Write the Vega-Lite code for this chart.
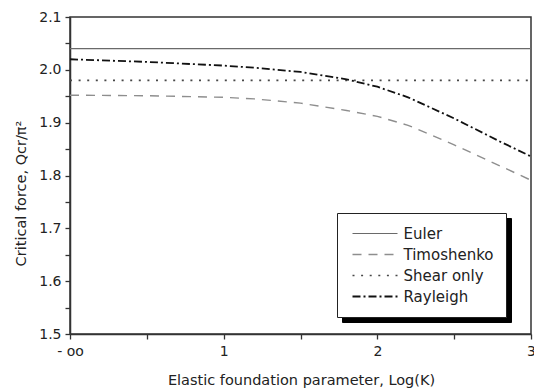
{
  "$schema": "https://vega.github.io/schema/vega-lite/v6.json",
  "width": 461,
  "height": 317,
  "autosize": "none",
  "padding": {"left": 70, "top": 17, "right": 3, "bottom": 58},
  "background": "white",
  "config": {
    "font": "DejaVu Sans",
    "view": {"stroke": "#333", "strokeWidth": 1.5},
    "axis": {
      "grid": false,
      "domainColor": "#333",
      "domainWidth": 1.5,
      "tickColor": "#333",
      "tickWidth": 1.3,
      "tickSize": 5,
      "labelFont": "DejaVu Sans",
      "labelFontSize": 14,
      "labelColor": "#222",
      "titleFont": "DejaVu Sans",
      "titleFontSize": 14.5,
      "titleFontWeight": "normal",
      "titleColor": "#222"
    }
  },
  "data": {
    "values": [
      {"model": "Euler", "x": 0, "y": 2.04},
      {"model": "Euler", "x": 3, "y": 2.04},
      {"model": "Shear only", "x": 0, "y": 1.98},
      {"model": "Shear only", "x": 3, "y": 1.98},
      {"model": "Timoshenko", "x": 0, "y": 1.952},
      {"model": "Timoshenko", "x": 0.5, "y": 1.951},
      {"model": "Timoshenko", "x": 1.0, "y": 1.948},
      {"model": "Timoshenko", "x": 1.2, "y": 1.945},
      {"model": "Timoshenko", "x": 1.5, "y": 1.937},
      {"model": "Timoshenko", "x": 1.8, "y": 1.923},
      {"model": "Timoshenko", "x": 2.0, "y": 1.912},
      {"model": "Timoshenko", "x": 2.2, "y": 1.895},
      {"model": "Timoshenko", "x": 2.5, "y": 1.858},
      {"model": "Timoshenko", "x": 2.8, "y": 1.818},
      {"model": "Timoshenko", "x": 3.0, "y": 1.791},
      {"model": "Rayleigh", "x": 0, "y": 2.02},
      {"model": "Rayleigh", "x": 0.5, "y": 2.015},
      {"model": "Rayleigh", "x": 1.0, "y": 2.008},
      {"model": "Rayleigh", "x": 1.2, "y": 2.004},
      {"model": "Rayleigh", "x": 1.5, "y": 1.996},
      {"model": "Rayleigh", "x": 1.8, "y": 1.982},
      {"model": "Rayleigh", "x": 2.0, "y": 1.968},
      {"model": "Rayleigh", "x": 2.2, "y": 1.948},
      {"model": "Rayleigh", "x": 2.5, "y": 1.908},
      {"model": "Rayleigh", "x": 2.8, "y": 1.864},
      {"model": "Rayleigh", "x": 3.0, "y": 1.836}
    ]
  },
  "mark": {"type": "line", "clip": true},
  "encoding": {
    "x": {
      "field": "x",
      "type": "quantitative",
      "scale": {"domain": [0, 3], "nice": false, "zero": false},
      "axis": {
        "title": "Elastic foundation parameter, Log(K)",
        "values": [0, 0.5, 1, 1.5, 2, 2.5, 3],
        "labelExpr": "datum.value == 0 ? '- oo' : (datum.value % 1 == 0 ? format(datum.value, 'd') : '')",
        "encode": {"ticks": {"update": {"y2": {"signal": "datum.value % 1 == 0 ? 5 : 3"}}}},
        "labelPadding": 5,
        "labelFlush": false,
        "labelOverlap": false,
        "titleX": 231,
        "titleY": 46,
        "titleAlign": "center",
        "titleBaseline": "middle"
      }
    },
    "y": {
      "field": "y",
      "type": "quantitative",
      "scale": {"domain": [1.5, 2.1], "nice": false, "zero": false},
      "axis": {
        "title": "Critical force,  Qcr/π²",
        "values": [1.5, 1.55, 1.6, 1.65, 1.7, 1.75, 1.8, 1.85, 1.9, 1.95, 2.0, 2.05, 2.1],
        "labelExpr": "abs(datum.value * 10 - round(datum.value * 10)) < 0.01 ? format(datum.value, '.1f') : ''",
        "encode": {"ticks": {"update": {"x2": {"signal": "abs(datum.value * 10 - round(datum.value * 10)) < 0.01 ? -5 : -3"}}}},
        "labelPadding": 4,
        "labelOverlap": false,
        "labelFlush": false,
        "titleX": -49,
        "titleY": 176,
        "titleAngle": -90,
        "titleAlign": "center",
        "titleBaseline": "middle"
      }
    },
    "color": {
      "field": "model",
      "type": "nominal",
      "scale": {
        "domain": ["Euler", "Timoshenko", "Shear only", "Rayleigh"],
        "range": ["#6a6a6a", "#8e8e8e", "#484848", "#111111"]
      },
      "legend": {
        "title": null,
        "orient": "none",
        "legendX": 267,
        "legendY": 196,
        "zindex": 2,
        "symbolType": "M-3,0H3",
        "symbolSize": 225,
        "symbolStrokeWidth": 1.7,
        "symbolOffset": 17.5,
        "labelOffset": 20,
        "labelFont": "DejaVu Sans",
        "labelFontSize": 15,
        "labelColor": "#222",
        "padding": 12,
        "rowPadding": 4,
        "fillColor": "white",
        "strokeColor": "#222"
      }
    },
    "strokeDash": {
      "field": "model",
      "type": "nominal",
      "scale": {
        "domain": ["Euler", "Timoshenko", "Shear only", "Rayleigh"],
        "range": [[1, 0], [9, 7], [2, 6.6], [8, 3, 2, 3]]
      }
    },
    "strokeWidth": {
      "field": "model",
      "type": "ordinal",
      "scale": {
        "domain": ["Euler", "Timoshenko", "Shear only", "Rayleigh"],
        "range": [1.2, 1.8, 1.6, 2.2]
      },
      "legend": null
    },
    "opacity": {
      "field": "model",
      "type": "nominal",
      "scale": {"range": [1, 1]},
      "legend": {
        "title": null,
        "orient": "none",
        "legendX": 272,
        "legendY": 201,
        "zindex": 1,
        "symbolType": "M-3,0H3",
        "symbolSize": 225,
        "symbolStrokeWidth": 1.7,
        "symbolOffset": 17.5,
        "labelOffset": 20,
        "labelFont": "DejaVu Sans",
        "labelFontSize": 15,
        "labelColor": "black",
        "symbolStrokeColor": "black",
        "padding": 12,
        "rowPadding": 4,
        "fillColor": "black",
        "strokeColor": "black"
      }
    }
  }
}
